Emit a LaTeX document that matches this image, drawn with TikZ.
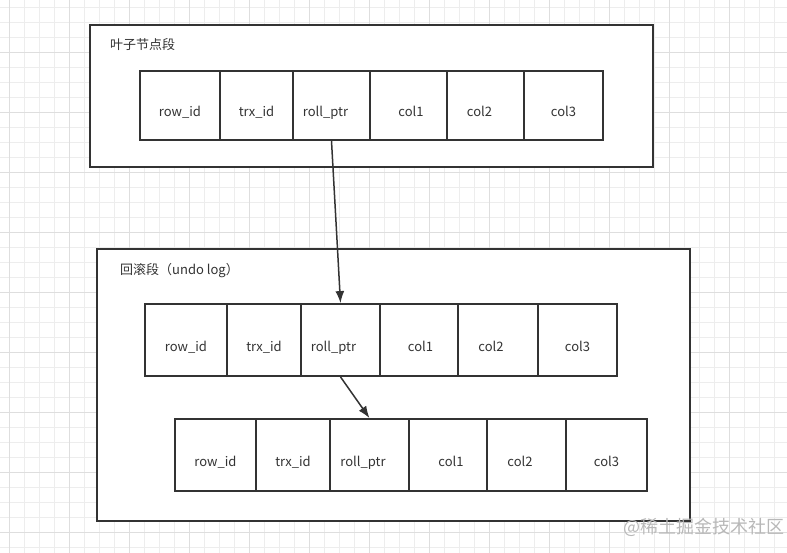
\documentclass[tikz,border=0pt]{standalone}
\usepackage{fontspec}
\setmainfont{Noto Sans CJK SC}
\usetikzlibrary{arrows.meta}
\definecolor{ink}{HTML}{333333}
\definecolor{gridminor}{HTML}{EDEDED}
\definecolor{gridmajor}{HTML}{DEDEDE}
\definecolor{markgray}{HTML}{B8B8B8}
\tikzset{
  every node/.style={font=\fontsize{13}{15}\selectfont, text=ink},
  segbox/.style={draw=ink, line width=1.8pt, fill=white},
  cell/.style={draw=ink, line width=1.8pt, fill=white, inner sep=0pt,
               text height=23pt, text depth=0pt},
  seglbl/.style={anchor=west, inner sep=0pt},
  arr/.style={-{Latex[length=12pt, width=9pt]}, line width=1.5pt, draw=ink},
  gridminorline/.style={draw=gridminor, line width=0.8pt},
  gridmajorline/.style={draw=gridmajor, line width=0.8pt},
  wmark/.style={font=\fontsize{18}{20}\selectfont, text=markgray, anchor=west, inner sep=0pt},
}

\begin{document}
\begin{tikzpicture}[x=1pt, y=-1pt]
\useasboundingbox (0,0) rectangle (787,553);

% --- background grid ---
\foreach \gx in {9,24,...,784} \draw[gridminorline] (\gx,0) -- (\gx,553);
\foreach \gy in {7,22,...,547} \draw[gridminorline] (0,\gy) -- (787,\gy);
\foreach \gx in {9,69,...,729} \draw[gridmajorline] (\gx,0) -- (\gx,553);
\foreach \gy in {52,112,...,532} \draw[gridmajorline] (0,\gy) -- (787,\gy);

% --- segment boxes ---
\node[segbox, minimum width=563pt, minimum height=142pt] (leafseg) at (371.5,96) {};
\node[segbox, minimum width=593pt, minimum height=272pt] (undoseg) at (393.5,385) {};

\node[seglbl] (leaflbl) at (110,45) {叶子节点段};
\node[seglbl] (undolbl) at (120,271) {回滚段（undo log）};

% --- leaf record ---
\node[cell, minimum width=80pt, minimum height=69pt] (lrow) at (180,105.5) {row\_id};
\node[cell, minimum width=73pt, minimum height=69pt] (ltrx) at (256.5,105.5) {trx\_id};
\node[cell, minimum width=77pt, minimum height=69pt] (lroll) at (331.5,105.5) {\hspace*{-12pt}roll\_ptr};
\node[cell, minimum width=77pt, minimum height=69pt] (lcolA) at (408.5,105.5) {\hspace*{5pt}col1};
\node[cell, minimum width=77pt, minimum height=69pt] (lcolB) at (485.5,105.5) {col2\hspace*{12pt}};
\node[cell, minimum width=79pt, minimum height=69pt] (lcolC) at (563.5,105.5) {col3};

% --- undo record 1 ---
\node[cell, minimum width=82pt, minimum height=72pt] (urow) at (186,340) {row\_id};
\node[cell, minimum width=74pt, minimum height=72pt] (utrx) at (264,340) {trx\_id};
\node[cell, minimum width=79pt, minimum height=72pt] (uroll) at (340.5,340) {\hspace*{-14pt}roll\_ptr};
\node[cell, minimum width=78pt, minimum height=72pt] (ucolA) at (419,340) {\hspace*{3pt}col1};
\node[cell, minimum width=80pt, minimum height=72pt] (ucolB) at (498,340) {col2\hspace*{14pt}};
\node[cell, minimum width=79pt, minimum height=72pt] (ucolC) at (577.5,340) {col3};

% --- undo record 2 ---
\node[cell, minimum width=81pt, minimum height=72pt] (vrow) at (215.5,455) {row\_id};
\node[cell, minimum width=74pt, minimum height=72pt] (vtrx) at (293,455) {trx\_id};
\node[cell, minimum width=79pt, minimum height=72pt] (vroll) at (369.5,455) {\hspace*{-13pt}roll\_ptr};
\node[cell, minimum width=78pt, minimum height=72pt] (vcolA) at (448,455) {\hspace*{6pt}col1};
\node[cell, minimum width=79pt, minimum height=72pt] (vcolB) at (526.5,455) {col2\hspace*{13pt}};
\node[cell, minimum width=81pt, minimum height=72pt] (vcolC) at (606.5,455) {col3};

% --- roll pointers ---
\draw[arr] (lroll.south) -- (uroll.north);
\draw[arr] (uroll.south) -- (vroll.north);

% --- watermark ---
\node[wmark] (wm) at (623,527) {@稀土掘金技术社区};

\end{tikzpicture}
\end{document}
